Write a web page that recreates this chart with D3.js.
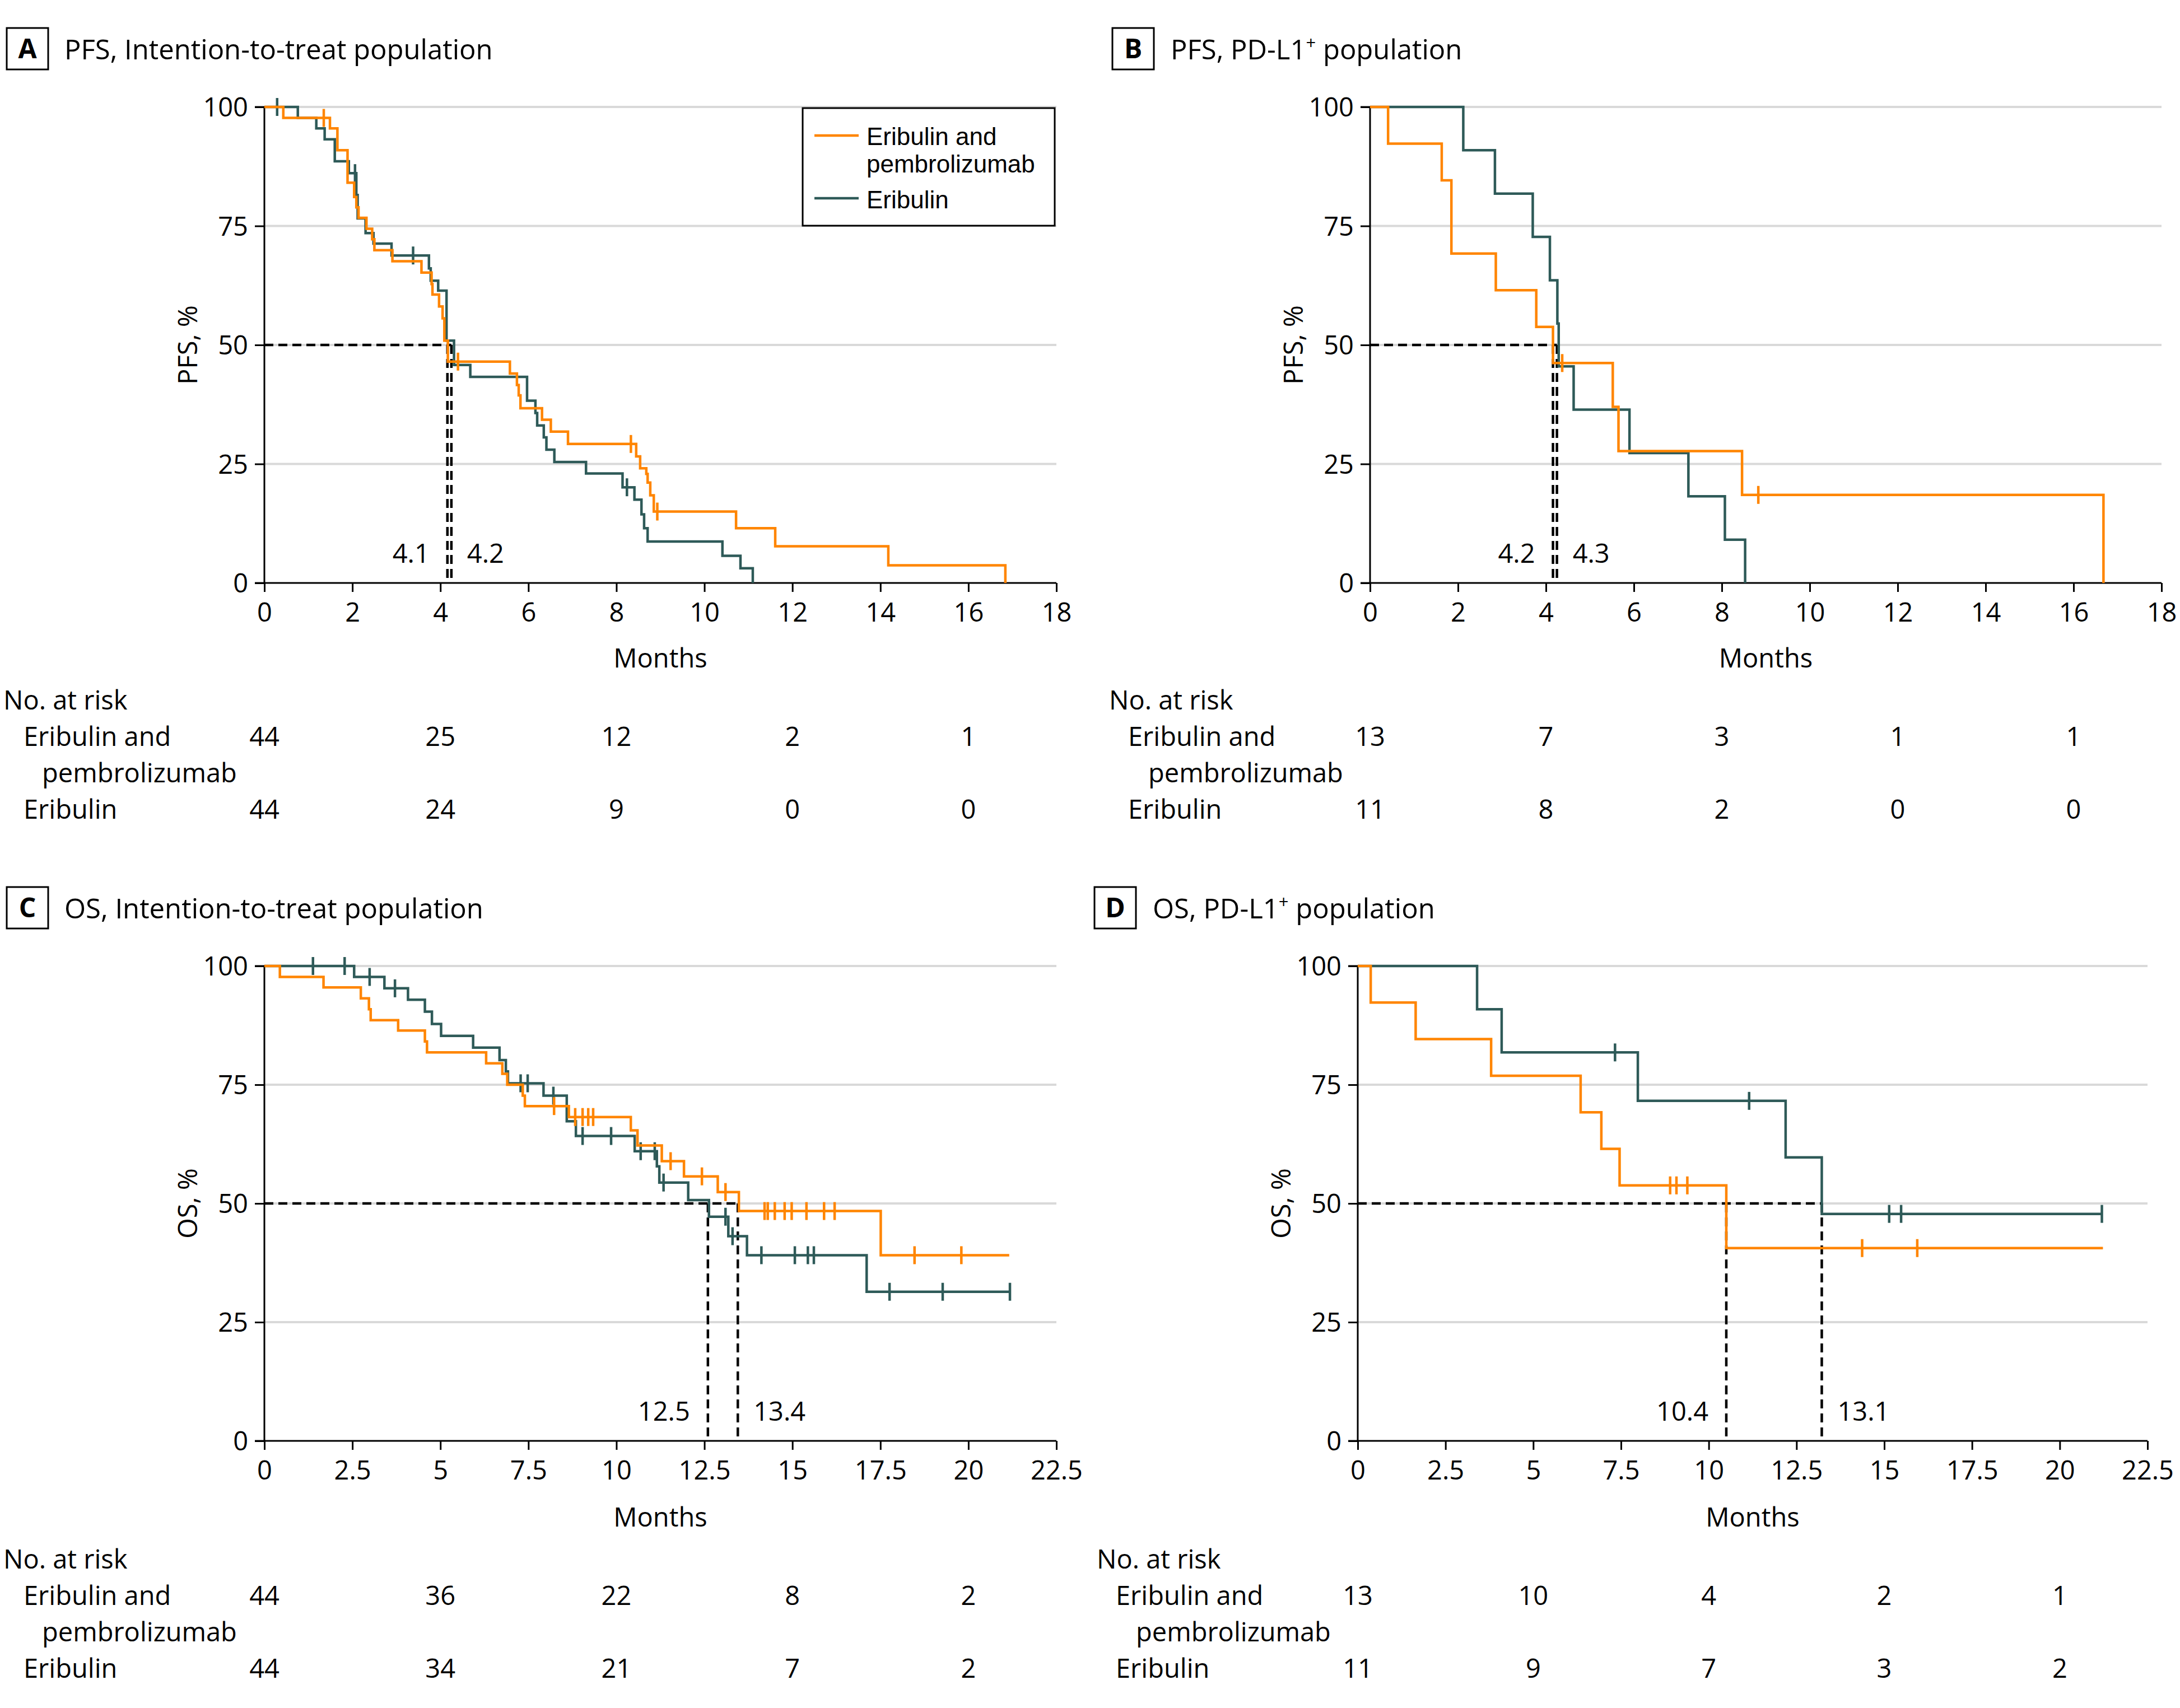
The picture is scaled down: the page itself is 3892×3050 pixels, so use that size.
<!DOCTYPE html>
<html><head><meta charset="utf-8">
<script src="https://cdn.jsdelivr.net/npm/d3@7"></script>
<style>
body{margin:0;background:#fff}
svg text{font-family:"Open Sans","Noto Sans",sans-serif;fill:#000}
svg text.leg{font-family:"Liberation Sans",Arial,sans-serif}
</style>
</head><body>
<svg id="chart" width="3892" height="3050"></svg>
<script>
// ---------------- DATA ----------------
const armLabels = ["Eribulin and pembrolizumab", "Eribulin"];
const pfsTicks = [0, 2, 4, 6, 8, 10, 12, 14, 16, 18];
const osTicks = [0, 2.5, 5, 7.5, 10, 12.5, 15, 17.5, 20, 22.5];
const survivalTicks = [0, 25, 50, 75, 100];
const pfsRiskTimes = [0, 4, 8, 12, 16];
const osRiskTimes = [0, 5, 10, 15, 20];

// Panel A: PFS, ITT  (steps: [month, % after drop])
const pfsIttCombo = [[0,100],[0.43,97.7],[1.49,95.5],[1.66,90.9],[1.89,84.1],[2.04,81.1],[2.09,78.9],[2.14,76.7],[2.32,74.4],[2.45,72.2],[2.5,69.9],[2.91,67.6],[3.57,65.2],[3.8,62.8],[3.82,60.6],[3.97,58.1],[4.05,55.6],[4.09,50.9],[4.17,46.5],[5.58,44.0],[5.74,41.6],[5.78,39.4],[5.82,36.7],[6.31,34.3],[6.51,31.8],[6.9,29.2],[8.45,26.6],[8.54,24.1],[8.68,22.9],[8.71,21.1],[8.77,18.4],[8.85,15.0],[10.72,11.5],[11.61,7.7],[14.18,3.7],[16.84,0]];
const pfsIttComboEnd = 16.84;
const pfsIttComboCensor = [1.35, 4.4, 8.33, 8.93];
const pfsIttMono = [[0,100],[0.76,97.7],[1.18,95.5],[1.37,93.2],[1.6,88.6],[1.92,86.1],[2.09,81.5],[2.12,76.6],[2.3,73.5],[2.48,71.3],[2.89,68.8],[3.74,66.1],[3.78,63.5],[3.95,61.4],[4.14,50.9],[4.31,45.8],[4.68,43.3],[5.97,38.3],[6.16,35.7],[6.2,33.1],[6.35,30.6],[6.41,28.0],[6.59,25.4],[7.31,23.0],[8.14,20.1],[8.41,17.5],[8.57,14.4],[8.63,11.5],[8.71,8.7],[10.41,5.7],[10.82,3.1],[11.1,0]];
const pfsIttMonoEnd = 11.1;
const pfsIttMonoCensor = [0.29, 2.06, 3.38, 8.24];
const pfsIttMedianAt = [4.16, 4.25];
const pfsIttMedianLabels = ["4.1", "4.2"];
const pfsIttRiskCombo = [44, 25, 12, 2, 1];
const pfsIttRiskMono = [44, 24, 9, 0, 0];

// Panel B: PFS, PD-L1+
const pfsPdCombo = [[0,100],[0.41,92.3],[1.63,84.6],[1.85,69.2],[2.86,61.5],[3.78,53.8],[4.16,46.2],[5.52,37.0],[5.65,27.7],[8.46,18.5],[16.68,0]];
const pfsPdComboEnd = 16.68;
const pfsPdComboCensor = [4.37, 8.83];
const pfsPdMono = [[0,100],[2.12,90.9],[2.84,81.8],[3.7,72.7],[4.09,63.6],[4.26,54.5],[4.29,45.5],[4.63,36.4],[5.9,27.3],[7.24,18.2],[8.07,9.1],[8.53,0]];
const pfsPdMonoEnd = 8.53;
const pfsPdMonoCensor = [];
const pfsPdMedianAt = [4.16, 4.25];
const pfsPdMedianLabels = ["4.2", "4.3"];
const pfsPdRiskCombo = [13, 7, 3, 1, 1];
const pfsPdRiskMono = [11, 8, 2, 0, 0];

// Panel C: OS, ITT
const osIttCombo = [[0,100],[0.44,97.7],[1.68,95.5],[2.74,93.2],[2.97,90.9],[3.02,88.6],[3.8,86.4],[4.56,84.1],[4.62,81.8],[6.3,79.5],[6.76,77.3],[6.9,75.0],[7.34,72.7],[7.4,70.5],[8.65,68.2],[10.41,65.4],[10.6,62.2],[11.29,58.9],[11.92,55.7],[12.88,52.4],[13.48,48.4],[17.51,39.1]];
const osIttComboEnd = 21.16;
const osIttComboCensor = [8.23, 8.83, 9.04, 9.2, 9.34, 11.54, 12.43, 13.1, 14.21, 14.3, 14.5, 14.78, 14.98, 15.4, 15.9, 16.2, 18.47, 19.8];
const osIttMono = [[0,100],[2.55,97.7],[3.41,95.3],[4.08,92.9],[4.56,90.4],[4.76,87.8],[5.02,85.3],[5.93,82.8],[6.68,80.2],[6.86,77.8],[6.92,75.3],[7.93,72.7],[8.59,67.3],[8.85,64.2],[10.52,61.0],[11.15,57.8],[11.22,54.4],[12.04,50.7],[12.63,47.2],[13.18,43.1],[13.71,39.1],[17.11,31.4]];
const osIttMonoEnd = 21.18;
const osIttMonoCensor = [1.38, 2.28, 2.99, 3.71, 7.28, 7.48, 8.21, 9.04, 9.85, 10.69, 11.09, 11.34, 13.1, 13.3, 14.12, 15.07, 15.44, 15.61, 17.76, 19.27, 21.18];
const osIttMedianAt = [12.6, 13.45];
const osIttMedianLabels = ["12.5", "13.4"];
const osIttRiskCombo = [44, 36, 22, 8, 2];
const osIttRiskMono = [44, 34, 21, 7, 2];

// Panel D: OS, PD-L1+
const osPdCombo = [[0,100],[0.37,92.3],[1.65,84.6],[3.8,76.9],[6.35,69.2],[6.94,61.5],[7.46,53.8],[10.5,40.6]];
const osPdComboEnd = 21.23;
const osPdComboCensor = [8.9, 9.08, 9.39, 14.37, 15.94];
const osPdMono = [[0,100],[3.4,90.9],[4.1,81.8],[7.98,71.6],[12.19,59.7],[13.22,47.8]];
const osPdMonoEnd = 21.2;
const osPdMonoCensor = [7.33, 11.15, 15.14, 15.48, 21.2];
const osPdMedianAt = [10.5, 13.22];
const osPdMedianLabels = ["10.4", "13.1"];
const osPdRiskCombo = [13, 10, 4, 2, 1];
const osPdRiskMono = [11, 9, 7, 3, 2];

// ---------------- STYLE / LAYOUT ----------------
const COMBO = "#FF8500", MONO = "#2E5A58";
const FS = 47;
const svg = d3.select("#chart");

const panels = [
  {letter:"A", title:["PFS, Intention-to-treat population"], yLabel:"PFS, %", x0:472, x1:1886, top:191, bot:1041,
   boxX:12, titleX:115, dom:18, ticks:pfsTicks, fmt:d=>d, riskT:pfsRiskTimes, riskLabelX:[6,42,75],
   combo:pfsIttCombo, comboEnd:pfsIttComboEnd, comboC:pfsIttComboCensor,
   mono:pfsIttMono, monoEnd:pfsIttMonoEnd, monoC:pfsIttMonoCensor,
   med:pfsIttMedianAt, medL:pfsIttMedianLabels, rc:pfsIttRiskCombo, rm:pfsIttRiskMono, legend:true},
  {letter:"B", title:["PFS, PD-L1","+"," population"], yLabel:"PFS, %", x0:2446, x1:3859, top:191, bot:1041,
   boxX:1986, titleX:2090, dom:18, ticks:pfsTicks, fmt:d=>d, riskT:pfsRiskTimes, riskLabelX:[1980,2014,2050],
   combo:pfsPdCombo, comboEnd:pfsPdComboEnd, comboC:pfsPdComboCensor,
   mono:pfsPdMono, monoEnd:pfsPdMonoEnd, monoC:pfsPdMonoCensor,
   med:pfsPdMedianAt, medL:pfsPdMedianLabels, rc:pfsPdRiskCombo, rm:pfsPdRiskMono},
  {letter:"C", title:["OS, Intention-to-treat population"], yLabel:"OS, %", x0:472, x1:1886, top:1725, bot:2573,
   boxX:12, titleX:115, dom:22.5, ticks:osTicks, fmt:d=>String(d), riskT:osRiskTimes, riskLabelX:[6,42,75],
   combo:osIttCombo, comboEnd:osIttComboEnd, comboC:osIttComboCensor,
   mono:osIttMono, monoEnd:osIttMonoEnd, monoC:osIttMonoCensor,
   med:osIttMedianAt, medL:osIttMedianLabels, rc:osIttRiskCombo, rm:osIttRiskMono},
  {letter:"D", title:["OS, PD-L1","+"," population"], yLabel:"OS, %", x0:2424, x1:3834, top:1725, bot:2573,
   boxX:1954, titleX:2058, dom:22.5, ticks:osTicks, fmt:d=>String(d), riskT:osRiskTimes, riskLabelX:[1958,1992,2028],
   combo:osPdCombo, comboEnd:osPdComboEnd, comboC:osPdComboCensor,
   mono:osPdMono, monoEnd:osPdMonoEnd, monoC:osPdMonoCensor,
   med:osPdMedianAt, medL:osPdMedianLabels, rc:osPdRiskCombo, rm:osPdRiskMono}
];

function survAt(steps, t){
  let s = steps[0][1];
  for (const [tt, v] of steps){ if (tt <= t) s = v; }
  return s;
}

panels.forEach(p => {
  const g = svg.append("g");
  const off = p.top - 191; // vertical offset of panel block
  const x = d3.scaleLinear().domain([0, p.dom]).range([p.x0, p.x1]);
  const y = d3.scaleLinear().domain([0, 100]).range([p.bot, p.top]);

  // Panel letter box and title
  g.append("rect").attr("x", p.boxX).attr("y", 50 + off).attr("width", 74).attr("height", 74)
    .attr("fill", "none").attr("stroke", "#000").attr("stroke-width", 3);
  g.append("text").attr("x", p.boxX + 37).attr("y", 104 + off).attr("text-anchor", "middle")
    .attr("font-size", 48).attr("font-weight", "bold").text(p.letter);
  const tt = g.append("text").attr("x", p.titleX).attr("y", 106 + off).attr("font-size", 49);
  if (p.title.length === 1) tt.text(p.title[0]);
  else {
    tt.append("tspan").text(p.title[0]);
    tt.append("tspan").attr("dy", -18).attr("font-size", 31).text(p.title[1]);
    tt.append("tspan").attr("dy", 18).text(p.title[2]);
  }

  // gridlines
  g.append("g").selectAll("line").data(survivalTicks.filter(d => d > 0)).join("line")
    .attr("x1", p.x0).attr("x2", p.x1).attr("y1", d => y(d)).attr("y2", d => y(d))
    .attr("stroke", "#d9d9d9").attr("stroke-width", 4);

  // axes
  const ya = g.append("g").attr("transform", `translate(${p.x0},0)`)
    .call(d3.axisLeft(y).tickValues(survivalTicks).tickSize(17).tickPadding(12));
  const xa = g.append("g").attr("transform", `translate(0,${p.bot})`)
    .call(d3.axisBottom(x).tickValues(p.ticks).tickFormat(p.fmt).tickSize(16).tickPadding(20));
  [ya, xa].forEach(a => {
    a.select(".domain").attr("stroke", "#000").attr("stroke-width", 3);
    a.selectAll(".tick line").attr("stroke", "#000").attr("stroke-width", 3);
    a.selectAll(".tick text").attr("font-size", FS).attr("font-family", '"Open Sans","Noto Sans",sans-serif').attr("fill", "#000");
  });
  ya.select(".domain").attr("d", `M-17,${p.bot}H0V${p.top}H-17`);
  ya.selectAll(".tick text").attr("dy", "0.36em");
  xa.select(".domain").attr("d", `M${p.x0},0H${p.x1}`);
  xa.selectAll(".tick text").attr("dy", 0).attr("y", 69);

  // axis titles
  g.append("text").attr("transform", `translate(${p.x0 - 120},${(p.top + p.bot) / 2}) rotate(-90)`)
    .attr("text-anchor", "middle").attr("font-size", FS).text(p.yLabel);
  g.append("text").attr("x", (p.x0 + p.x1) / 2).attr("y", 1192 + off).attr("text-anchor", "middle")
    .attr("font-size", FS).text("Months");

  // median dashed lines
  const dash = g.append("g").attr("stroke", "#000").attr("stroke-width", 4.5).attr("stroke-dasharray", "16,9").attr("fill", "none");
  dash.append("line").attr("x1", x(0)).attr("x2", x(d3.max(p.med))).attr("y1", y(50)).attr("y2", y(50));
  dash.selectAll("line.v").data(p.med).join("line").attr("class", "v")
    .attr("x1", d => x(d)).attr("x2", d => x(d)).attr("y1", y(50)).attr("y2", y(0));
  g.append("text").attr("x", x(p.med[0]) - 32).attr("y", p.bot - 36).attr("text-anchor", "end")
    .attr("font-size", FS).text(p.medL[0]);
  g.append("text").attr("x", x(p.med[1]) + 28).attr("y", p.bot - 36).attr("text-anchor", "start")
    .attr("font-size", FS).text(p.medL[1]);

  // survival curves
  const line = d3.line().x(d => x(d[0])).y(d => y(d[1])).curve(d3.curveStepAfter);
  const arms = [
    {steps:p.mono, end:p.monoEnd, cens:p.monoC, color:MONO},
    {steps:p.combo, end:p.comboEnd, cens:p.comboC, color:COMBO}
  ];
  arms.forEach(a => {
    const pts = a.steps.concat([[a.end, a.steps[a.steps.length - 1][1]]]);
    g.append("path").attr("d", line(pts)).attr("fill", "none").attr("stroke", a.color)
      .attr("stroke-width", 4.5).attr("stroke-linejoin", "miter").attr("stroke-linecap", "butt");
    g.append("g").selectAll("line").data(a.cens).join("line")
      .attr("x1", d => x(d)).attr("x2", d => x(d))
      .attr("y1", d => y(survAt(a.steps, d)) - 16).attr("y2", d => y(survAt(a.steps, d)) + 16)
      .attr("stroke", a.color).attr("stroke-width", 4.5);
  });

  // number at risk
  const rl = p.riskLabelX;
  g.append("text").attr("x", rl[0]).attr("y", 1267 + off).attr("font-size", FS).text("No. at risk");
  const rlab = g.append("text").attr("font-size", FS);
  rlab.append("tspan").attr("x", rl[1]).attr("y", 1332 + off).text("Eribulin and");
  rlab.append("tspan").attr("x", rl[2]).attr("y", 1397 + off).text("pembrolizumab");
  g.append("text").attr("x", rl[1]).attr("y", 1462 + off).attr("font-size", FS).text(armLabels[1]);
  g.append("g").selectAll("text").data(p.rc).join("text")
    .attr("x", (d, i) => x(p.riskT[i])).attr("y", 1332 + off).attr("text-anchor", "middle")
    .attr("font-size", FS).text(d => d);
  g.append("g").selectAll("text").data(p.rm).join("text")
    .attr("x", (d, i) => x(p.riskT[i])).attr("y", 1462 + off).attr("text-anchor", "middle")
    .attr("font-size", FS).text(d => d);

  // legend
  if (p.legend) {
    const lg = g.append("g");
    lg.append("rect").attr("x", 1433).attr("y", 193).attr("width", 450).attr("height", 210)
      .attr("fill", "#fff").attr("stroke", "#000").attr("stroke-width", 3);
    lg.append("line").attr("x1", 1454).attr("x2", 1533).attr("y1", 242).attr("y2", 242)
      .attr("stroke", COMBO).attr("stroke-width", 4.5);
    lg.append("line").attr("x1", 1454).attr("x2", 1533).attr("y1", 354).attr("y2", 354)
      .attr("stroke", MONO).attr("stroke-width", 4.5);
    const lt = lg.append("text").attr("class", "leg").attr("font-size", 44);
    lt.append("tspan").attr("x", 1547).attr("y", 259).text("Eribulin and");
    lt.append("tspan").attr("x", 1547).attr("y", 308).text("pembrolizumab");
    lg.append("text").attr("class", "leg").attr("x", 1547).attr("y", 372).attr("font-size", 44).text(armLabels[1]);
  }
});
</script>
</body></html>
